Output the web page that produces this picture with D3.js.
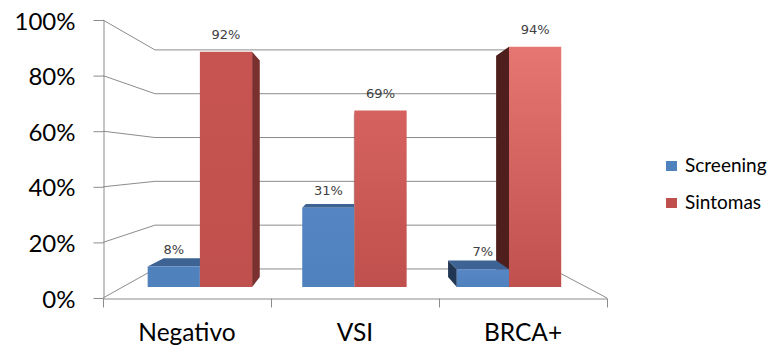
<!DOCTYPE html>
<html>
<head>
<meta charset="utf-8">
<script src="https://cdn.jsdelivr.net/npm/d3@7"></script>
<style>
  html, body { margin: 0; padding: 0; background: #fff; }
  svg { display: block; }
</style>
</head>
<body>
<svg id="chart" width="771" height="347"></svg>
<script>
// Data
const categories = ["Negativo", "VSI", "BRCA+"];
const seriesNames = ["Screening", "Sintomas"];
const screening = [8, 31, 7];
const sintomas = [92, 69, 94];
const yTicks = [0, 20, 40, 60, 80, 100];

// Styling
const blueFront = "#4F81BD", redFront = "#C0504D";
const redTopTint = ["#C75451", "#D5625E", "#E67672"];
const blueTopTint = ["#4F81BD", "#5586C3", "#5787C5"];
const topFaceColor = { Screening: "#3C6393", Sintomas: "#9A3F3D" };
const sideColorNear = { Screening: "#2F4F78", Sintomas: "#7A302E" };
const sideColorFar = { Screening: "#203652", Sintomas: "#4F1F1E" };
const gridColor = "#8C8C8C";
const font = "Lato, 'Open Sans', sans-serif";

const svg = d3.select("#chart");
const defs = svg.append("defs");

// Front-plane scales (world coordinates before perspective)
const x0 = d3.scaleBand().domain(categories).range([103, 607]);
const x1 = d3.scaleBand().domain(seriesNames).range([0, x0.bandwidth()]).paddingOuter(0.48);
const y = d3.scaleLinear().domain([0, 100]).range([298, 20]);

// Simple perspective: shrink toward a vanishing point by a depth factor
const VP = [348, 161];
const WALL = 0.788, BAR_FRONT = 0.92, BAR_BACK = 0.92 * 0.92;
const proj = (wx, wy, s) => [VP[0] + (wx - VP[0]) * s, VP[1] + (wy - VP[1]) * s];
const line = d3.line();

// Walls and floor
const grid = svg.append("g").attr("fill", "none").attr("stroke", gridColor).attr("stroke-width", 1);
yTicks.forEach(t => {
  const front = [x0.range()[0], y(t)];
  const backL = proj(x0.range()[0], y(t), WALL);
  const backR = proj(x0.range()[1], y(t), WALL);
  grid.append("path").attr("d", line([front, backL, backR]));
});
// right edge of the floor
grid.append("path").attr("d", line([[x0.range()[1], y(0)], proj(x0.range()[1], y(0), WALL)]));

// Value axis on the front-left edge
const yAxis = svg.append("g")
  .attr("transform", "translate(103.5,0)")
  .call(d3.axisLeft(y).tickValues(yTicks).tickFormat(d => d + "%").tickSize(10).tickSizeOuter(0).tickPadding(18));
yAxis.select(".domain").attr("stroke", gridColor);
yAxis.selectAll(".tick line").attr("stroke", gridColor);
yAxis.selectAll(".tick text").attr("fill", "#000").attr("font-family", font).attr("font-size", 24).attr("dy", "0.38em");

// Category axis along the front edge of the floor
const xBound = d3.scalePoint().domain(d3.range(categories.length + 1)).range(x0.range());
const xAxisTicks = svg.append("g")
  .attr("transform", "translate(0,298.5)")
  .call(d3.axisBottom(xBound).tickSize(9).tickSizeOuter(0).tickFormat(""));
xAxisTicks.select(".domain").attr("stroke", gridColor);
xAxisTicks.selectAll(".tick line").attr("stroke", gridColor);

const xAxisLabels = svg.append("g")
  .attr("transform", "translate(0,298)")
  .call(d3.axisBottom(x0).tickSize(0).tickPadding(26));
xAxisLabels.select(".domain").remove();
xAxisLabels.selectAll(".tick text").attr("fill", "#000").attr("font-family", font).attr("font-size", 24.5);

// Bars
const bars = [];
categories.forEach((c, i) => {
  [screening[i], sintomas[i]].forEach((v, j) => {
    const s = seriesNames[j];
    const xl = x0(c) + x1(s), xr = xl + x1.bandwidth();
    bars.push({ c, i, s, v, xl, xr });
  });
});

bars.forEach(b => {
  const id = `g${b.i}${b.s}`;
  const g = defs.append("linearGradient").attr("id", id).attr("x1", 0).attr("y1", 0).attr("x2", 0).attr("y2", 1);
  const topCol = b.s === "Sintomas" ? redTopTint[b.i] : blueTopTint[b.i];
  const botCol = b.s === "Sintomas" ? redFront : blueFront;
  g.append("stop").attr("offset", "0%").attr("stop-color", topCol);
  g.append("stop").attr("offset", "100%").attr("stop-color", botCol);
  b.fill = `url(#${id})`;
});

const barLayer = svg.append("g");
const faces = { side: barLayer.append("g"), top: barLayer.append("g"), front: barLayer.append("g") };

bars.forEach(b => {
  const yt = y(b.v), yb = y(0);
  const fTL = proj(b.xl, yt, BAR_FRONT), fTR = proj(b.xr, yt, BAR_FRONT);
  const fBL = proj(b.xl, yb, BAR_FRONT), fBR = proj(b.xr, yb, BAR_FRONT);
  const kTL = proj(b.xl, yt, BAR_BACK), kTR = proj(b.xr, yt, BAR_BACK);
  const kBL = proj(b.xl, yb, BAR_BACK), kBR = proj(b.xr, yb, BAR_BACK);

  // side facing the vanishing point
  if (fBR[0] < VP[0]) {
    faces.side.append("path").attr("d", line([fTR, kTR, kBR, fBR]) + "Z").attr("fill", sideColorNear[b.s]);
  } else if (fBL[0] > VP[0]) {
    faces.side.append("path").attr("d", line([fTL, kTL, kBL, fBL]) + "Z").attr("fill", sideColorFar[b.s]);
  }
  // top face when it sits below eye level
  if (fTL[1] > VP[1]) {
    faces.top.append("path").attr("d", line([fTL, fTR, kTR, kTL]) + "Z").attr("fill", topFaceColor[b.s]);
  }
  faces.front.append("path").attr("d", line([fTL, fTR, fBR, fBL]) + "Z").attr("fill", b.fill);

  // value label
  svg.append("text")
    .attr("x", (fTL[0] + fTR[0]) / 2)
    .attr("y", fTL[1] - 13)
    .attr("text-anchor", "middle")
    .attr("font-family", "'DejaVu Sans', sans-serif")
    .attr("font-size", 13)
    .attr("fill", "#404040")
    .text(b.v + "%");
});

// Legend
const legend = svg.append("g").attr("transform", "translate(666,161)");
seriesNames.forEach((s, k) => {
  const row = legend.append("g").attr("transform", `translate(0,${k * 37})`);
  row.append("rect").attr("width", 11).attr("height", 10).attr("fill", s === "Sintomas" ? redFront : blueFront);
  row.append("text").attr("x", 19).attr("y", 11).attr("font-family", font).attr("font-size", 19).attr("fill", "#000").text(s);
});
</script>
</body>
</html>
